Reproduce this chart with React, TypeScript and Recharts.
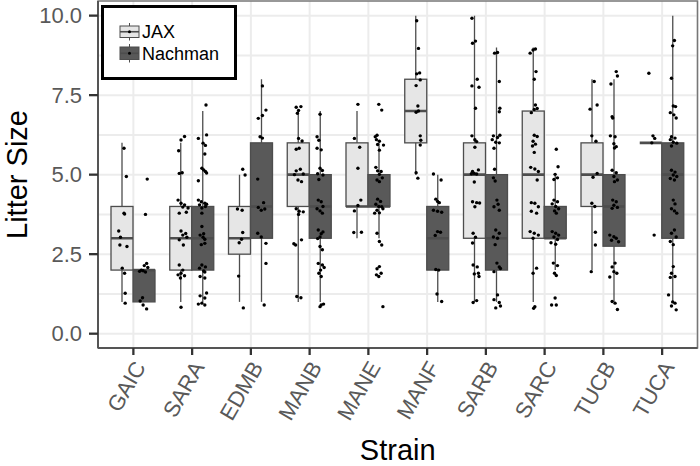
import React from "react";
import {
  ComposedChart, Bar, Scatter, XAxis, YAxis, CartesianGrid, Legend, ReferenceArea,
} from "recharts";

const strains = ["GAIC", "SARA", "EDMB", "MANB", "MANE", "MANF", "SARB", "SARC", "TUCB", "TUCA"];

// [whisker low, q1, median, q3, whisker high]
const jaxStats = [
  [1, 2, 3, 4, 6], [1, 2, 3, 4, 6], [1, 2.5, 3, 4, 5], [1, 4, 5, 6, 7], [3, 4, 4, 6, 7],
  [5, 6, 7, 8, 10], [1, 3, 5, 6, 10], [1, 3, 5, 7, 9], [2, 4, 5, 6, 8], [6, 6, 6, 6, 6],
];
const nachmanStats = [
  [1, 1, 2, 2, 2], [1, 2, 3, 4, 7], [1, 3, 4, 6, 8], [1, 3, 4, 5, 7], [3, 4, 4, 5, 6],
  [1, 2, 3, 4, 5], [1, 2, 3, 5, 9], [2, 3, 3, 4, 5], [1, 2.75, 4, 5, 8], [1, 3, 5, 6, 10],
];

// jittered litters: [x jitter, litter size]
const jaxPoints = [
  [[0.03,5.83],[0.07,4.94],[0.03,3.79],[0.04,3.76],[-0.06,3.23],[-0.03,3.03],[-0.04,2.79],[0.08,2.74],[0,2.06],[0.04,1.9],[0.05,1.27],[0.05,0.96]],
  [[0.06,6.2],[0,6.09],[-0.04,5.75],[-0.03,5.04],[0.02,5.06],[-0.05,4.2],[0,4.1],[0.06,4.05],[0.12,3.95],[0.03,3.98],[-0.03,3.79],[0.09,3.82],[0,3.23],[0.08,3.15],[0.03,3.1],[0.1,3.03],[-0.03,2.95],[0.04,2.79],[-0.03,2.16],[0.03,2.0],[0,1.9],[-0.05,1.85],[0.06,1.82],[-0.01,1.75],[0,0.83]],
  [[0.05,5.17],[0.09,4.99],[-0.04,3.92],[0.04,3.88],[0.05,3.18],[0.03,2.97],[-0.01,2.86],[-0.02,1.81],[0.06,0.81]],
  [[0.04,7.14],[-0.04,7.12],[0,7.02],[-0.02,6.93],[0,6.14],[0.06,6.06],[0.01,5.83],[-0.04,5.8],[0.03,5.17],[-0.04,5.12],[0.08,5.02],[-0.07,5.0],[-0.01,4.83],[0.05,4.78],[-0.04,3.93],[0.01,3.85],[0.08,3.83],[0,3.75],[0.05,2.95],[-0.05,2.79],[-0.08,2.83],[-0.03,1.17],[0.04,1.13]],
  [[0.01,7.21],[-0.05,6.14],[0.04,5.86],[0.01,5.2],[0.06,4.2],[0.01,4.03],[-0.05,3.86],[-0.06,3.18],[0.07,3.19]],
  [[0.01,9.84],[0.04,8.97],[0.01,8.17],[0.06,8.2],[0.07,7.98],[0,7.8],[0.03,7.16],[0.04,7.0],[0,6.96],[0.07,6.22],[0.08,6.08],[0.07,5.93],[0,5.06],[0.03,4.89]],
  [[-0.05,9.92],[-0.04,9.13],[0.01,9.2],[0.04,8.0],[-0.05,7.79],[0.07,7.75],[0.01,7.09],[-0.05,6.22],[0,6.1],[0.03,6.04],[0,5.86],[0.06,5.15],[-0.04,5.1],[-0.01,5.04],[0.03,5.02],[-0.06,5.03],[-0.01,4.77],[-0.04,4.15],[0.03,4.12],[0.08,4.11],[0,3.99],[-0.03,3.16],[0.01,3.03],[-0.04,2.85],[-0.03,2.16],[0.04,2.1],[0.06,1.9],[-0.01,1.88],[0.07,1.8],[-0.03,0.98],[0.03,1.04]],
  [[-0.06,8.82],[-0.01,8.92],[0.03,8.95],[0.04,8.24],[0.01,8.0],[0.03,7.19],[0.06,7.08],[0.01,7.05],[-0.04,6.95],[0.01,6.24],[0.06,6.2],[-0.01,6.05],[0.03,5.96],[-0.02,5.9],[0.01,5.7],[-0.05,5.23],[0.02,5.18],[0.08,5.1],[0.06,4.83],[-0.04,4.12],[0.02,4.1],[0.08,3.99],[-0.04,3.85],[0.05,3.79],[-0.06,3.21],[0.01,3.16],[0.08,3.1],[-0.01,3.0],[0.05,2.06],[-0.01,1.9],[0.02,0.85],[0,0.8]],
  [[0.03,7.93],[0.08,7.19],[-0.04,7.06],[-0.01,6.22],[0.06,6.05],[0.08,5.04],[0.01,4.92],[-0.01,4.1],[0.04,4.0],[0.05,3.19],[0.05,2.79],[-0.02,1.95]],
  [[-0.04,8.19],[0.03,6.22],[0.06,6.14],[0.01,6.0],[0.05,3.1]],
];
const nachmanPoints = [
  [[0.05,4.86],[0.02,3.75],[0.04,2.21],[0,2.14],[0.06,2.08],[-0.05,2.0],[-0.02,1.98],[-0.08,1.96],[0.02,1.94],[-0.03,1.13],[-0.07,1.03],[-0.02,0.9],[0.04,0.78]],
  [[0.05,7.19],[-0.08,6.14],[0.06,6.25],[0,5.99],[0.04,5.92],[0.03,5.65],[-0.02,5.2],[0.04,5.1],[0.01,5.15],[0.06,5.05],[-0.08,4.81],[-0.08,4.2],[-0.03,4.15],[0.03,4.1],[0.06,4.07],[-0.06,4.05],[0.04,4.0],[-0.02,3.95],[-0.02,3.79],[-0.02,3.37],[0.01,3.14],[-0.05,3.1],[0,3.03],[0.03,2.97],[0.03,2.84],[-0.03,2.8],[-0.02,2.16],[0.04,2.1],[-0.06,2.06],[0.01,1.97],[0.03,1.94],[-0.05,1.8],[0.03,1.75],[0.06,1.28],[-0.05,1.19],[0.03,1.12],[-0.02,0.96],[-0.08,0.93],[0.03,0.9]],
  [[0.01,7.79],[0.07,7.03],[0.01,6.86],[-0.06,6.77],[-0.03,6.19],[0.01,6.15],[-0.07,4.86],[0.03,4.12],[-0.06,3.97],[-0.01,3.88],[0.05,3.92],[-0.07,3.16],[-0.01,3.04],[0.07,2.84],[0.07,2.21],[0.04,0.9]],
  [[-0.01,6.9],[-0.06,6.19],[-0.03,6.08],[-0.06,5.83],[0.01,5.78],[-0.01,5.2],[0.03,5.13],[-0.05,5.03],[0.04,4.99],[-0.03,4.85],[-0.04,4.2],[0.01,4.15],[0.04,4.0],[-0.06,3.93],[-0.01,3.86],[0.03,3.79],[-0.04,3.26],[0.04,3.2],[0.01,3.14],[-0.01,3.04],[-0.05,2.99],[-0.01,2.74],[0.03,2.64],[-0.04,2.21],[0.03,2.16],[0.06,2.08],[0,2.0],[-0.03,1.9],[0.01,1.8],[0.05,0.93],[0.01,0.9],[-0.01,0.85]],
  [[-0.01,7.21],[0.04,7.03],[-0.07,6.19],[-0.04,6.24],[-0.05,6.1],[0,6.05],[-0.03,5.95],[0.07,5.93],[0,5.77],[-0.06,5.23],[-0.03,5.12],[0.03,5.1],[0,5.01],[0.05,4.9],[-0.04,4.83],[0,4.78],[-0.03,4.23],[0.02,4.16],[-0.06,4.07],[-0.01,4.0],[0.04,3.99],[0.06,3.93],[-0.04,3.88],[-0.08,3.79],[0,3.8],[-0.04,3.16],[0,2.9],[0.04,2.79],[0,2.11],[-0.04,2.04],[0.03,1.9],[-0.05,1.85],[-0.01,1.8],[0.06,0.85]],
  [[-0.08,5.02],[0.05,4.83],[-0.04,4.23],[-0.01,4.16],[0.02,4.12],[-0.08,3.88],[-0.01,3.85],[0.06,3.82],[-0.01,3.21],[-0.05,3.09],[0.04,3.19],[0.01,2.0],[-0.04,2.02],[-0.02,1.25],[0.06,1.01]],
  [[0.01,8.84],[-0.04,8.82],[0.04,7.93],[0.05,7.09],[0.04,6.98],[-0.06,6.22],[0.01,6.17],[0.05,6.24],[-0.08,6.1],[-0.02,6.02],[0.04,6.0],[-0.05,5.83],[-0.04,5.17],[-0.06,4.9],[-0.03,4.8],[0,4.2],[0.02,4.07],[-0.05,3.99],[0.04,3.88],[-0.02,3.26],[0.04,3.16],[-0.06,3.04],[0.01,3.0],[-0.03,2.8],[0,2.22],[0.04,2.1],[-0.05,1.95],[0.06,2.05],[0.01,1.22],[-0.05,1.07],[0.04,0.98],[-0.02,0.81],[0.06,0.87]],
  [[0.01,5.8],[0.04,5.25],[-0.01,5.01],[0.03,4.9],[-0.03,4.85],[-0.03,4.2],[0.03,4.15],[-0.06,4.08],[0,4.0],[0.05,3.93],[-0.02,3.86],[0.01,3.79],[-0.06,3.21],[0,3.16],[0.05,3.1],[-0.03,3.04],[0.03,2.96],[-0.08,2.86],[0,2.81],[-0.04,2.22],[0.03,2.14],[-0.02,1.9],[0.01,1.83],[-0.01,1.12],[-0.07,0.9],[0.01,0.9]],
  [[0.03,8.24],[0.05,8.1],[-0.06,7.85],[-0.04,6.82],[-0.03,6.78],[-0.07,6.22],[0.01,6.19],[-0.01,5.97],[0.03,5.88],[0,5.84],[-0.04,5.14],[0.03,5.06],[-0.01,4.94],[0.05,4.83],[0,4.78],[-0.03,4.2],[0.03,4.15],[-0.01,4.04],[0.05,3.97],[-0.04,3.94],[-0.08,3.1],[-0.01,3.05],[0.03,3.0],[-0.05,2.94],[0.07,2.89],[0.01,2.22],[-0.04,2.1],[-0.01,1.95],[0.04,1.9],[-0.08,1.78],[-0.04,1.01],[0.01,0.96],[0.05,0.76]],
  [[0.02,9.22],[-0.01,9.05],[-0.03,8.03],[0,7.16],[0.04,7.14],[-0.05,6.95],[0.01,6.88],[0.05,6.78],[-0.03,6.19],[0.03,6.15],[-0.05,6.1],[0,6.02],[0.06,5.99],[-0.03,5.9],[-0.03,5.14],[0.03,5.08],[0,4.99],[0.06,4.94],[-0.05,4.88],[0.02,4.83],[0,4.2],[0.03,4.08],[-0.03,3.93],[0.02,3.86],[0.06,3.79],[0.02,3.26],[-0.03,3.16],[0.05,3.04],[-0.05,2.9],[0,2.8],[0,2.11],[-0.03,1.9],[0.03,1.8],[-0.05,1.77],[-0.08,1.22],[-0.01,1.0],[0.03,0.96],[-0.03,0.87],[0.05,0.75]],
];

const yTicks = [0, 2.5, 5, 7.5, 10];
const yGrid = [0, 1.25, 2.5, 3.75, 5, 6.25, 7.5, 8.75, 10];

const JAX_FILL = "#e6e6e6";
const NACH_FILL = "#595959";
const LINE = "#4d4d4d";
const TICK = "#333333";
const DODGE = 0.1875;

const rows = strains.map((s, i) => ({
  strain: s,
  jaxRange: [jaxStats[i][0], jaxStats[i][4]],
  nachmanRange: [nachmanStats[i][0], nachmanStats[i][4]],
  jaxStats: jaxStats[i],
  nachmanStats: nachmanStats[i],
}));

const toScatter = (pts: number[][][], shift: number) =>
  pts.flatMap((list, i) => list.map(([dx, v]) => ({ x: i + 1 + shift + dx, y: v })));

const jaxScatter = toScatter(jaxPoints, -DODGE);
const nachmanScatter = toScatter(nachmanPoints, DODGE);

function BoxShape(props: any) {
  const { x, y, width, height, stats, fill } = props;
  const [lo, q1, med, q3, hi] = stats;
  const top = Math.min(y, y + height);
  const bottom = Math.max(y, y + height);
  const span = hi - lo;
  const px = (v: number) => (span === 0 ? top : top + ((bottom - top) * (hi - v)) / span);
  const cx = x + width / 2;
  return (
    <g>
      <line x1={cx} x2={cx} y1={px(hi)} y2={px(lo)} stroke={LINE} strokeWidth={1.3} />
      <rect x={x} y={px(q3)} width={width} height={px(q1) - px(q3)} fill={fill} stroke={LINE} strokeWidth={1.3} />
      <line x1={x} x2={x + width} y1={px(med)} y2={px(med)} stroke={LINE} strokeWidth={2.6} />
    </g>
  );
}

const Dot = (p: any) => <circle cx={p.cx} cy={p.cy} r={1.7} fill="#000" />;

function StrainTick(props: any) {
  const { x, y, payload } = props;
  return (
    <g transform={`translate(${x + 13},${y + 10})`}>
      <text transform="rotate(-60)" textAnchor="end" fontSize={22} fill="#595959">
        {payload.value}
      </text>
    </g>
  );
}

function XTitle(props: any) {
  const vb = props.viewBox;
  return (
    <text x={vb.x + vb.width / 2} y={vb.y + 112} textAnchor="middle" fontSize={29} fill="#000">
      Strain
    </text>
  );
}

function YTitle(props: any) {
  const vb = props.viewBox;
  const cy = vb.y + vb.height / 2;
  return (
    <text x={27} y={cy} transform={`rotate(-90, 27, ${cy})`} textAnchor="middle" fontSize={29} fill="#000">
      Litter Size
    </text>
  );
}

function LegendBox() {
  const key = (y0: number, h: number, fill: string) => {
    const mid = y0 + h / 2;
    return (
      <g>
        <line x1={25.5} x2={25.5} y1={y0 - 3} y2={y0 + h + 3} stroke={LINE} strokeWidth={1} />
        <rect x={16} y={y0} width={19} height={h} fill={fill} stroke={LINE} strokeWidth={1} />
        <line x1={16} x2={35} y1={mid} y2={mid} stroke={LINE} strokeWidth={1.6} />
        <circle cx={25.5} cy={mid} r={1.5} fill="#000" />
      </g>
    );
  };
  return (
    <div style={{ width: 136, height: 75, border: "3px solid #000", boxSizing: "border-box", background: "#fff" }}>
      <svg width={130} height={69}>
        {key(18, 11.5, JAX_FILL)}
        {key(39, 12.5, NACH_FILL)}
        <text x={38} y={29.5} fontSize={18} fill="#000">JAX</text>
        <text x={38} y={52} fontSize={18} fill="#000">Nachman</text>
      </svg>
    </div>
  );
}

export default function App() {
  return (
    <div style={{ position: "absolute", left: 0, top: 0, fontFamily: "'Liberation Sans', Arial, Helvetica, sans-serif" }}>
      <ComposedChart
        width={700}
        height={466}
        data={rows}
        margin={{ top: 1, right: 2.5, bottom: 0, left: 0 }}
        barSize={22}
        barGap={0}
      >
        <CartesianGrid stroke="#ececec" strokeWidth={2} horizontalValues={yGrid} />
        <XAxis
          dataKey="strain"
          type="category"
          padding={{ left: 6, right: 6 }}
          height={118}
          tickSize={7}
          tickMargin={2}
          tick={<StrainTick />}
          tickLine={{ stroke: TICK, strokeWidth: 2.3 }}
          axisLine={{ stroke: "#555", strokeWidth: 2 }}
          interval={0}
          label={<XTitle />}
        />
        <XAxis xAxisId="pts" dataKey="x" type="number" domain={[0.4, 10.6]} hide allowDataOverflow />
        <YAxis
          type="number"
          domain={[-0.45, 10.46]}
          allowDataOverflow
          ticks={yTicks}
          tickFormatter={(v: number) => v.toFixed(1)}
          width={98}
          tickSize={9}
          tickMargin={7}
          tick={{ fontSize: 22, fill: "#595959" }}
          tickLine={{ stroke: TICK, strokeWidth: 2.3 }}
          axisLine={{ stroke: "#555", strokeWidth: 2 }}
          label={<YTitle />}
        />
        <ReferenceArea
          xAxisId="pts"
          x1={0.4}
          x2={10.6}
          y1={-0.45}
          y2={10.46}
          fill="none"
          stroke="#777"
          strokeWidth={1.5}
          ifOverflow="visible"
        />
        <Bar
          dataKey="jaxRange"
          isAnimationActive={false}
          shape={(p: any) => <BoxShape {...p} stats={p.payload.jaxStats} fill={JAX_FILL} />}
        />
        <Bar
          dataKey="nachmanRange"
          isAnimationActive={false}
          shape={(p: any) => <BoxShape {...p} stats={p.payload.nachmanStats} fill={NACH_FILL} />}
        />
        <Scatter xAxisId="pts" data={jaxScatter} dataKey="y" shape={Dot} isAnimationActive={false} />
        <Scatter xAxisId="pts" data={nachmanScatter} dataKey="y" shape={Dot} isAnimationActive={false} />
        <Legend
          layout="vertical"
          align="center"
          verticalAlign="middle"
          wrapperStyle={{ left: 101, top: 5, width: 136, height: 75 }}
          content={() => <LegendBox />}
        />
      </ComposedChart>
    </div>
  );
}
